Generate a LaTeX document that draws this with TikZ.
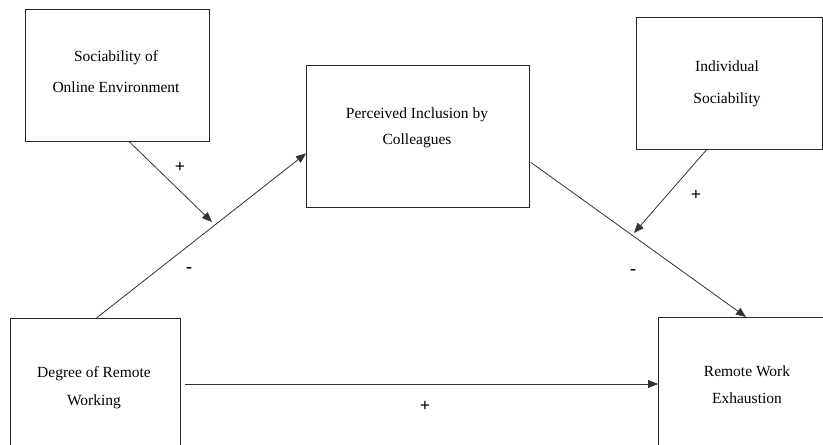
\documentclass[tikz,border=0pt]{standalone}
\usepackage{fontspec}
\setmainfont{Liberation Serif}
\usetikzlibrary{arrows.meta,calc}
\tikzset{
  box/.style={draw=black!85, line width=0.9pt, inner sep=0pt, anchor=north west},
  txt/.style={anchor=base, inner sep=0pt, text=black, font=\fontsize{15.5}{18}\selectfont},
  sign/.style={inner sep=0pt, text=black, font=\fontsize{18}{18}\selectfont\bfseries},
  conn/.style={draw=black!80, line width=0.8pt, -{Triangle[length=10pt,width=8pt]}},
}
\begin{document}
\begin{tikzpicture}[x=1pt,y=-1pt]
\useasboundingbox (0,0) rectangle (823,445);
\clip (0,0) rectangle (823,445);
\fill[white] (0,0) rectangle (823,445);
% boxes
\node[box, minimum width=184pt, minimum height=132pt] (b1) at (25,9) {};
\node[box, minimum width=223pt, minimum height=142pt] (b2) at (306,65) {};
\node[box, minimum width=186pt, minimum height=132pt] (b3) at (636,17) {};
\node[box, minimum width=170pt, minimum height=160pt] (b4) at (10,318) {};
\node[box, minimum width=200pt, minimum height=160pt] (b5) at (658,317) {};
% texts
\node[txt] (t1a) at (116,61) {Sociability of};
\node[txt] (t1b) at (116,92) {Online Environment};
\node[txt] (t2a) at (417,118) {Perceived Inclusion by};
\node[txt] (t2b) at (417,144) {Colleagues};
\node[txt] (t3a) at (727,71) {Individual};
\node[txt] (t3b) at (727,103) {Sociability};
\node[txt] (t4a) at (94,377) {Degree of Remote};
\node[txt] (t4b) at (94,405) {Working};
\node[txt] (t5a) at (747,376) {Remote Work};
\node[txt] (t5b) at (747,403) {Exhaustion};
% connector points
\coordinate (m1) at (212,222);
\coordinate (m2) at (634,233);
\coordinate (s5) at ($(b4.north east)+(4,66)$);
% connectors
\draw[conn] ([xshift=12pt]b1.south) -- (m1);
\draw[conn] ([xshift=1pt]b4.north) -- ([yshift=-17pt]b2.west);
\draw[conn] ([xshift=1pt,yshift=-26pt]b2.east) -- ([xshift=88pt]b5.north west);
\draw[conn] ([xshift=-23pt]b3.south) -- (m2);
\draw[conn] (s5) -- (s5 -| b5.west);
% signs
\node[sign] (p1) at (180,167) {+};
\node[sign] (n1) at (189,270) {-};
\node[sign] (p2) at (696,195) {+};
\node[sign] (n2) at (633,272) {-};
\node[sign] (p3) at (425,406) {+};
\end{tikzpicture}
\end{document}
